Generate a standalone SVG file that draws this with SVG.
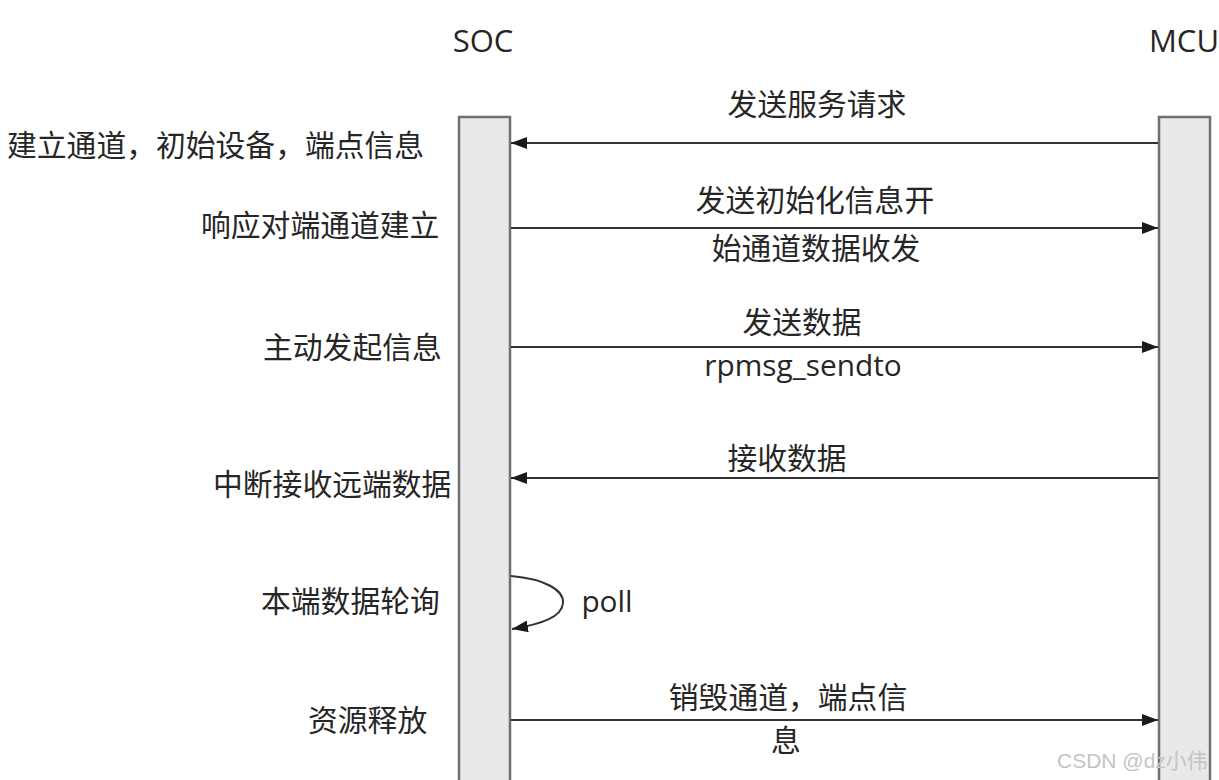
<svg xmlns="http://www.w3.org/2000/svg" width="1219" height="780" viewBox="0 0 1219 780">
<style>
text{font-family:"Open Sans","Noto Sans CJK SC",sans-serif;font-size:29.8px;fill:#262626}
.lbl{text-anchor:middle}
.hd{font-size:31px}
.life{fill:#e9e9e9;stroke:#6f6f6f;stroke-width:2.5}
.msg{stroke:#333333;stroke-width:2;fill:none}
.wm{font-family:"Liberation Sans","Noto Sans CJK SC",sans-serif;font-size:21px;fill:#c4c4c4}
</style>
<defs>
<marker id="ah" viewBox="0 0 16 12" refX="16" refY="6" markerWidth="16" markerHeight="12" markerUnits="userSpaceOnUse" orient="auto">
<path d="M0,0 L16,6 L0,12 Z" fill="#1a1a1a"/>
</marker>
</defs>
<rect width="1219" height="780" fill="#ffffff"/>
<g id="soc">
<text x="483" y="52" class="lbl hd">SOC</text>
<rect class="life" x="459" y="117" width="51" height="680"/>
</g>
<g id="mcu">
<text x="1184" y="52" class="lbl hd">MCU</text>
<rect class="life" x="1159" y="117" width="51" height="680"/>
</g>
<g id="left-labels">
<text x="7" y="156">建立通道，初始设备，端点信息</text>
<text x="201" y="236">响应对端通道建立</text>
<text x="263" y="358">主动发起信息</text>
<text x="213" y="495">中断接收远端数据</text>
<text x="261" y="612">本端数据轮询</text>
<text x="308" y="731">资源释放</text>
</g>
<g id="connectors">
<line class="msg" x1="1158" y1="143" x2="511" y2="143" marker-end="url(#ah)"/>
<line class="msg" x1="511" y1="228" x2="1158" y2="228" marker-end="url(#ah)"/>
<line class="msg" x1="511" y1="347" x2="1158" y2="347" marker-end="url(#ah)"/>
<line class="msg" x1="1158" y1="478" x2="511" y2="478" marker-end="url(#ah)"/>
<path class="msg" d="M511,576 C545,579 564,590 563,603 C562,617 542,624 512,629" marker-end="url(#ah)"/>
<line class="msg" x1="511" y1="720" x2="1158" y2="720" marker-end="url(#ah)"/>
</g>
<g id="connector-labels">
<text x="817" y="115" class="lbl">发送服务请求</text>
<text x="815" y="211" class="lbl">发送初始化信息开</text>
<text x="816" y="259" class="lbl">始通道数据收发</text>
<text x="802" y="333" class="lbl">发送数据</text>
<text x="803" y="376" class="lbl">rpmsg_sendto</text>
<text x="787" y="469" class="lbl">接收数据</text>
<text x="607" y="612" class="lbl">poll</text>
<text x="788" y="708" class="lbl">销毁通道，端点信</text>
<text x="786" y="751" class="lbl">息</text>
</g>
<text class="wm" x="1057" y="768">CSDN @dz小伟</text>
</svg>
